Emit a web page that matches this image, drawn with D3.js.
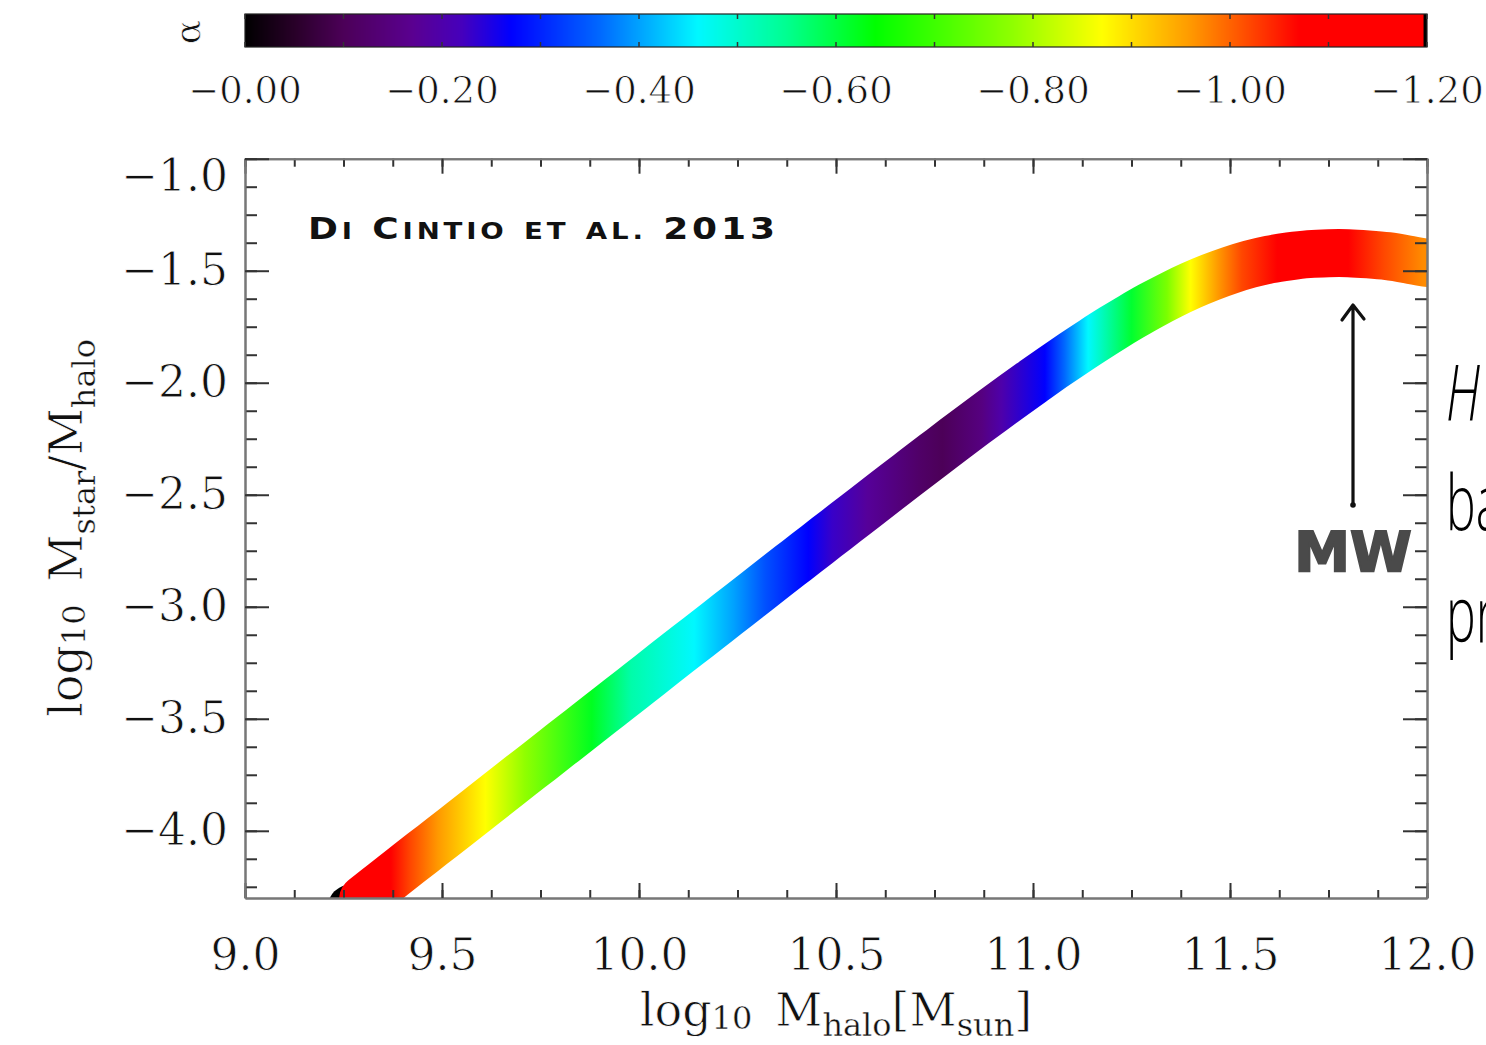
<!DOCTYPE html>
<html>
<head>
<meta charset="utf-8">
<script src="https://cdn.jsdelivr.net/npm/d3@7"></script>
<style>
  body { margin: 0; background: #fff; }
  svg { display: block; }
</style>
</head>
<body>
<div id="chart"></div>
<script>
        var width = 1486, height = 1045;
        var serif = "'DejaVu Serif', serif";

        // stellar-to-halo mass ratio along halo mass (log10 values)
        var logMhalo = [9.27, 9.30, 9.35, 9.40, 9.45, 9.50, 9.55, 9.60, 9.65, 9.70,
                        9.75, 9.80, 9.85, 9.90, 9.95, 10.00, 10.05, 10.10, 10.15, 10.20,
                        10.25, 10.30, 10.35, 10.40, 10.45, 10.50, 10.55, 10.60, 10.65, 10.70,
                        10.75, 10.80, 10.85, 10.90, 10.95, 11.00, 11.05, 11.10, 11.15, 11.20,
                        11.25, 11.30, 11.35, 11.40, 11.45, 11.50, 11.55, 11.60, 11.65, 11.70,
                        11.75, 11.80, 11.85, 11.90, 11.95, 12.00];
        var logRatio = [-4.346, -4.305, -4.236, -4.167, -4.098, -4.030, -3.961, -3.892, -3.823, -3.754,
                        -3.686, -3.617, -3.548, -3.479, -3.411, -3.342, -3.273, -3.204, -3.136, -3.067,
                        -2.999, -2.930, -2.861, -2.793, -2.725, -2.657, -2.589, -2.521, -2.453, -2.386,
                        -2.319, -2.252, -2.186, -2.121, -2.057, -1.994, -1.932, -1.872, -1.814, -1.758,
                        -1.705, -1.655, -1.609, -1.567, -1.530, -1.498, -1.471, -1.450, -1.436, -1.426,
                        -1.422, -1.422, -1.427, -1.435, -1.449, -1.466];

        // inner slope alpha along the relation
        var alphaMass  = [9.27, 9.30, 9.37, 9.42, 9.49, 9.61, 9.71, 9.88, 9.98, 10.14,
                          10.24, 10.32, 10.43, 10.49, 10.58, 10.71, 10.77, 10.87, 10.92, 11.03,
                          11.08, 11.14, 11.25, 11.34, 11.40, 11.47, 11.53, 11.62, 11.80, 11.89, 11.99];
        var alphaValue = [0.00, -1.14, -1.08, -1.02, -0.96, -0.87, -0.78, -0.62, -0.53, -0.46,
                          -0.40, -0.34, -0.27, -0.23, -0.18, -0.12, -0.10, -0.15, -0.20, -0.27,
                          -0.36, -0.46, -0.61, -0.76, -0.87, -0.96, -1.02, -1.08, -1.10, -1.02, -0.97];

        // rainbow colour table for alpha
        var colourStops = [0, -0.05, -0.10, -0.17, -0.22, -0.27, -0.36, -0.46, -0.55, -0.64,
                           -0.78, -0.87, -0.96, -1.01, -1.07, -1.196, -1.197];
        var colourList = ["#000000", "#280028", "#4c0058", "#5a0090", "#4600bc", "#0000ff", "#0068ff",
                          "#00f8ff", "#00ff90", "#00ff00", "#90ff00", "#ffff00", "#ff9900", "#ff5500",
                          "#ff0000", "#ff0000", "#000000"];

        // ticks and labels
        var alphaTicks = [0, -0.2, -0.4, -0.6, -0.8, -1.0, -1.2];
        var alphaTickLabels = ["\u22120.00", "\u22120.20", "\u22120.40", "\u22120.60", "\u22120.80", "\u22121.00", "\u22121.20"];
        var xTicks = [9.0, 9.5, 10.0, 10.5, 11.0, 11.5, 12.0];
        var xTickLabels = ["9.0", "9.5", "10.0", "10.5", "11.0", "11.5", "12.0"];
        var yTicks = [-1.0, -1.5, -2.0, -2.5, -3.0, -3.5, -4.0];
        var yTickLabels = ["\u22121.0", "\u22121.5", "\u22122.0", "\u22122.5", "\u22123.0", "\u22123.5", "\u22124.0"];

        var xScale = d3.scaleLinear().domain([9, 12]).range([245, 1427]);
        var yScale = d3.scaleLinear().domain([-4.3, -1.0]).range([898, 158.7]);
        var colour = d3.scaleLinear().domain(colourStops).range(colourList)
                       .interpolate(d3.interpolateRgb).clamp(true);
        var barScale = d3.scaleLinear().domain([0, -1.2]).range([245, 1427]);

        var svg = d3.select("#chart")
                    .append("svg")
                    .attr("width", width)
                    .attr("height", height);

        svg.append("rect").attr("width", width).attr("height", height).attr("fill", "#fff");

        // thin the serif glyphs a little with a white outline on top
        function lightText(sel) {
            sel.attr("font-family", serif)
               .attr("fill", "#111")
               .attr("stroke", "#fff")
               .attr("stroke-width", 0.8);
        }

        var defs = svg.append("defs");
        defs.append("clipPath").attr("id", "plotClip")
            .append("rect")
            .attr("x", xScale(9)).attr("y", yScale(-1.0))
            .attr("width", xScale(12) - xScale(9))
            .attr("height", yScale(-4.3) - yScale(-1.0));

        // colour of the band follows alpha along halo mass
        var gx1 = xScale(alphaMass[1]), gx2 = xScale(alphaMass[alphaMass.length - 1]);
        var grad = defs.append("linearGradient")
                       .attr("id", "bandGrad")
                       .attr("gradientUnits", "userSpaceOnUse")
                       .attr("x1", gx1).attr("x2", gx2)
                       .attr("y1", 0).attr("y2", 0);
        grad.selectAll("stop")
            .data(alphaMass.slice(1))
            .enter()
            .append("stop")
            .attr("offset", function(d) { return (xScale(d) - gx1) / (gx2 - gx1); })
            .attr("stop-color", function(d, i) { return colour(alphaValue[i + 1]); });

        // ---- colour bar ----
        var bar = svg.append("g");
        bar.selectAll("rect.cell")
           .data(d3.range(245, 1427))
           .enter()
           .append("rect")
           .attr("class", "cell")
           .attr("x", function(d) { return d; })
           .attr("y", 14)
           .attr("width", 1.2)
           .attr("height", 33)
           .attr("shape-rendering", "crispEdges")
           .attr("fill", function(d) { return colour(barScale.invert(d + 0.5)); });
        bar.append("rect")
           .attr("x", 245).attr("y", 14).attr("width", 1182).attr("height", 33)
           .attr("fill", "none").attr("stroke", "#222").attr("stroke-width", 1.2);
        var barTicks = d3.range(13).map(function(i) { return -i / 10; });
        bar.selectAll("line.tt")
           .data(barTicks)
           .enter()
           .append("line")
           .attr("x1", barScale).attr("x2", barScale)
           .attr("y1", 14).attr("y2", 19)
           .attr("stroke", "#333").attr("stroke-width", 1.5);
        bar.selectAll("line.tb")
           .data(barTicks)
           .enter()
           .append("line")
           .attr("x1", barScale).attr("x2", barScale)
           .attr("y1", 42).attr("y2", 47)
           .attr("stroke", "#333").attr("stroke-width", 1.5);
        bar.selectAll("text")
           .data(alphaTicks)
           .enter()
           .append("text")
           .attr("x", barScale)
           .attr("y", 103)
           .attr("text-anchor", "middle")
           .attr("font-size", 37)
           .call(lightText)
           .text(function(d, i) { return alphaTickLabels[i]; });
        svg.append("text")
           .attr("transform", "translate(200,32) rotate(-90)")
           .attr("text-anchor", "middle")
           .attr("font-size", 36)
           .call(lightText)
           .text("\u03b1");

        // ---- band ----
        var plot = svg.append("g").attr("clip-path", "url(#plotClip)");
        plot.append("circle")
            .attr("cx", xScale(logMhalo[0]))
            .attr("cy", yScale(logRatio[0]))
            .attr("r", 24)
            .attr("fill", colour(alphaValue[0]));

        var pts = logMhalo.map(function(m, i) { return [m, logRatio[i]]; }).slice(1);
        var line = d3.line()
                     .x(function(d) { return xScale(d[0]); })
                     .y(function(d) { return yScale(d[1]); })
                     .curve(d3.curveCatmullRom);
        plot.append("path")
            .attr("d", line(pts))
            .attr("fill", "none")
            .attr("stroke", "url(#bandGrad)")
            .attr("stroke-width", 48)
            .attr("stroke-linecap", "round");

        // ---- axes ----
        var xMinor = d3.range(9, 12.001, 0.125);
        var yMinor = d3.range(-4.25, -0.999, 0.125);

        function styleAxis(g) {
            g.select(".domain").attr("stroke", "#777").attr("stroke-width", 2);
            g.selectAll(".tick line").attr("stroke", "#333").attr("stroke-width", 2);
            g.selectAll(".tick text")
             .attr("font-size", 44)
             .call(lightText);
        }

        svg.append("g").attr("transform", "translate(0,898)")
           .call(d3.axisBottom(xScale).tickValues(xMinor).tickSize(-8).tickSizeOuter(0).tickFormat(""))
           .call(styleAxis);
        svg.append("g").attr("transform", "translate(0,898)")
           .call(d3.axisBottom(xScale).tickValues(xTicks).tickSize(-15).tickSizeOuter(0)
                   .tickPadding(41).tickFormat(function(d, i) { return xTickLabels[i]; }))
           .call(styleAxis);
        svg.append("g").attr("transform", "translate(0,158.7)")
           .call(d3.axisTop(xScale).tickValues(xMinor).tickSize(-8).tickSizeOuter(0).tickFormat(""))
           .call(styleAxis);
        svg.append("g").attr("transform", "translate(0,158.7)")
           .call(d3.axisTop(xScale).tickValues(xTicks).tickSize(-15).tickSizeOuter(0).tickFormat(""))
           .call(styleAxis);

        svg.append("g").attr("transform", "translate(245,0)")
           .call(d3.axisLeft(yScale).tickValues(yMinor).tickSize(-12).tickSizeOuter(0).tickFormat(""))
           .call(styleAxis);
        var yAxisG = svg.append("g").attr("transform", "translate(245,0)")
           .call(d3.axisLeft(yScale).tickValues(yTicks).tickSize(-24).tickSizeOuter(0)
                   .tickPadding(17).tickFormat(function(d, i) { return yTickLabels[i]; }))
           .call(styleAxis);
        // top label sits inside the frame height
        yAxisG.selectAll(".tick text").filter(function(d) { return d === -1.0; }).attr("y", 18);

        svg.append("g").attr("transform", "translate(1427,0)")
           .call(d3.axisRight(yScale).tickValues(yMinor).tickSize(-12).tickSizeOuter(0).tickFormat(""))
           .call(styleAxis);
        svg.append("g").attr("transform", "translate(1427,0)")
           .call(d3.axisRight(yScale).tickValues(yTicks).tickSize(-24).tickSizeOuter(0).tickFormat(""))
           .call(styleAxis);

        // ---- axis titles ----
        var xTitle = svg.append("text")
                        .attr("x", 836).attr("y", 1026)
                        .attr("text-anchor", "middle")
                        .attr("font-size", 46)
                        .call(lightText);
        xTitle.append("tspan").text("log");
        xTitle.append("tspan").attr("font-size", 32).attr("stroke-width", 0.4).attr("dy", 3).text("10");
        xTitle.append("tspan").attr("dy", -3).text("\u2002M");
        xTitle.append("tspan").attr("font-size", 32).attr("stroke-width", 0.4).attr("dy", 10).text("halo");
        xTitle.append("tspan").attr("dy", -10).text("[M");
        xTitle.append("tspan").attr("font-size", 32).attr("stroke-width", 0.4).attr("dy", 10).text("sun");
        xTitle.append("tspan").attr("dy", -10).text("]");

        var yTitle = svg.append("text")
                        .attr("transform", "translate(82,528) rotate(-90)")
                        .attr("text-anchor", "middle")
                        .attr("font-size", 46)
                        .call(lightText);
        yTitle.append("tspan").text("log");
        yTitle.append("tspan").attr("font-size", 32).attr("stroke-width", 0.4).attr("dy", 3).text("10");
        yTitle.append("tspan").attr("dy", -3).text("\u2002M");
        yTitle.append("tspan").attr("font-size", 32).attr("stroke-width", 0.4).attr("dy", 13).text("star");
        yTitle.append("tspan").attr("dy", -13).text("/M");
        yTitle.append("tspan").attr("font-size", 32).attr("stroke-width", 0.4).attr("dy", 13).text("halo");

        // ---- annotations ----
        var citeParts = [["D", 30], ["I", 23], [" ", 30], ["C", 30], ["INTIO", 23], [" ", 30],
                         ["ET", 23], [" ", 30], ["AL.", 23], [" ", 30], ["2013", 30]];
        var cite = svg.append("text")
                      .attr("transform", "translate(308,239) scale(1.2,1)")
                      .attr("font-family", "'DejaVu Sans', sans-serif")
                      .attr("font-weight", "bold")
                      .attr("textLength", 467 / 1.2)
                      .attr("lengthAdjust", "spacing")
                      .attr("fill", "#111");
        cite.selectAll("tspan")
            .data(citeParts)
            .enter()
            .append("tspan")
            .attr("font-size", function(d) { return d[1]; })
            .text(function(d) { return d[0]; });

        svg.append("path")
           .attr("d", "M1353,505 L1353,306 M1342,320 L1353,305 L1364,319")
           .attr("fill", "none")
           .attr("stroke", "#111")
           .attr("stroke-width", 3.2)
           .attr("stroke-linecap", "round")
           .attr("stroke-linejoin", "round");
        svg.append("circle").attr("cx", 1353).attr("cy", 505).attr("r", 2.8).attr("fill", "#111");

        svg.append("text")
           .attr("x", 1353).attr("y", 571)
           .attr("text-anchor", "middle")
           .attr("font-family", "'DejaVu Sans', sans-serif")
           .attr("font-weight", "bold")
           .attr("font-size", 56)
           .attr("fill", "#4a4a4a")
           .attr("stroke", "#4a4a4a")
           .attr("stroke-width", 2)
           .text("MW");

        var notes = [["H", 420], ["ba", 530], ["pr", 642]];
        svg.selectAll("text.note")
           .data(notes)
           .enter()
           .append("text")
           .attr("class", "note")
           .attr("transform", function(d) { return "translate(1446," + d[1] + ") scale(0.64,1)"; })
           .attr("font-family", "'Open Sans', sans-serif")
           .attr("font-weight", 300)
           .attr("font-style", function(d) { return d[0] === "H" ? "italic" : "normal"; })
           .attr("font-size", 78)
           .attr("fill", "#000")
           .text(function(d) { return d[0]; });
</script>
</body>
</html>
